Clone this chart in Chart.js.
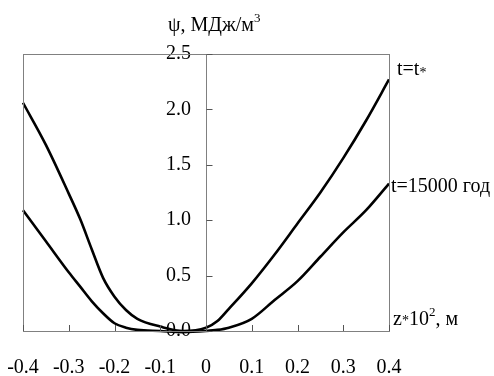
<!DOCTYPE html>
<html>
<head>
<meta charset="utf-8">
<script src="https://cdn.jsdelivr.net/npm/chart.js@4.4.1/dist/chart.umd.min.js"></script>
<style>
html,body{margin:0;padding:0;background:#fff;}
#wrap{width:494px;height:376px;}
</style>
</head>
<body>
<div id="wrap"><canvas id="c" width="494" height="376"></canvas></div>
<script>
// z*10^2, m
const zValues = [-0.4,-0.35,-0.3,-0.275,-0.25,-0.225,-0.2,-0.175,-0.15,-0.1,-0.05,0,0.025,0.05,0.1,0.15,0.2,0.25,0.3,0.35,0.4];
// psi, MJ/m^3 at t = t*
const psiTstar = [2.06,1.68,1.24,1.01,0.74,0.48,0.31,0.19,0.11,0.04,0.0,0.03,0.09,0.2,0.43,0.69,0.97,1.25,1.56,1.90,2.27];
// psi, MJ/m^3 at t = 15000 years
const psi15000 = [1.09,0.81,0.53,0.40,0.27,0.16,0.07,0.03,0.01,0.0,-0.01,0.0,0.01,0.03,0.11,0.28,0.45,0.67,0.89,1.09,1.33];
const seriesLabels = ['t=t*','t=15000 год'];
const yTickLabels = ['0.0','0.5','1.0','1.5','2.0','2.5'];
const xTickLabels = ['-0.4','-0.3','-0.2','-0.1','0','0.1','0.2','0.3','0.4'];

const FONT = "'Liberation Serif', 'Times New Roman', serif";

function pts(ys){ return zValues.map((z,i)=>({x:z,y:ys[i]})); }

function drawPieces(ctx, x, y, pieces){
  let cx = x;
  for (const p of pieces){
    ctx.font = p.size + 'px ' + FONT;
    ctx.fillText(p.t, cx, y + (p.dy||0));
    cx += ctx.measureText(p.t).width;
  }
}

const decor = {
  id:'decor',
  afterDraw(chart){
    const ctx = chart.ctx, a = chart.chartArea;
    const xs = chart.scales.x, ys = chart.scales.y;
    ctx.save();
    ctx.strokeStyle = '#808080';
    ctx.lineWidth = 1;
    ctx.strokeRect(Math.round(a.left)+0.5, Math.round(a.top)+0.5, Math.round(a.right-a.left), Math.round(a.bottom-a.top));
    const x0 = Math.round(xs.getPixelForValue(0))+0.5;
    ctx.beginPath();
    ctx.moveTo(x0, a.top); ctx.lineTo(x0, a.bottom);
    ctx.stroke();
    ctx.strokeStyle = '#555';
    ctx.beginPath();
    xs.ticks.forEach(t=>{
      const px = Math.round(xs.getPixelForValue(t.value))+0.5;
      ctx.moveTo(px, a.bottom); ctx.lineTo(px, a.bottom-6);
    });
    ys.ticks.forEach(t=>{
      const py = Math.round(ys.getPixelForValue(t.value))+0.5;
      ctx.moveTo(x0, py); ctx.lineTo(x0+6, py);
    });
    ctx.stroke();
    ctx.fillStyle = '#000';
    ctx.textBaseline = 'alphabetic';
    ctx.textAlign = 'left';
    drawPieces(ctx, 168, 31, [{t:'ψ, МДж/м', size:20},{t:'3', size:13, dy:-9}]);
    drawPieces(ctx, 397, 75, [{t:'t=t', size:20},{t:'*', size:14, dy:2}]);
    drawPieces(ctx, 391, 192, [{t:'t=15000 год', size:20}]);
    drawPieces(ctx, 393, 325, [{t:'z', size:20},{t:'*', size:14, dy:0},{t:'10', size:20},{t:'2', size:13, dy:-9},{t:', м', size:20}]);
    ctx.restore();
  }
};

new Chart(document.getElementById('c'), {
  type:'line',
  data:{
    datasets:[
      {label:seriesLabels[0], data:pts(psiTstar), borderColor:'#000', borderWidth:2.6, pointRadius:0, cubicInterpolationMode:'monotone', fill:false, clip:false},
      {label:seriesLabels[1], data:pts(psi15000), borderColor:'#000', borderWidth:2.6, pointRadius:0, cubicInterpolationMode:'monotone', fill:false, clip:false}
    ]
  },
  options:{
    responsive:false,
    animation:false,
    layout:{padding:{left:23,right:105,top:54,bottom:0}},
    plugins:{legend:{display:false},tooltip:{enabled:false}},
    scales:{
      x:{
        type:'linear', min:-0.4, max:0.4,
        grid:{display:true, drawOnChartArea:false, drawTicks:true, tickLength:25, color:'rgba(0,0,0,0)'},
        border:{display:false},
        afterFit(s){ s.height = 45; },
        afterBuildTicks(s){ s.ticks = xTickLabels.map(v=>({value:parseFloat(v)})); },
        ticks:{
          autoSkip:false, maxRotation:0, padding:0, color:'#000',
          font:{family:FONT, size:20},
          callback(v, i){ return xTickLabels[i]; }
        }
      },
      y:{
        type:'linear', min:0, max:2.5, position:'center',
        grid:{display:false, drawTicks:false},
        border:{display:false},
        afterBuildTicks(s){ s.ticks = yTickLabels.map(v=>({value:parseFloat(v)})); },
        ticks:{
          padding:15, color:'#000',
          font:{family:FONT, size:20},
          callback(v, i){ return yTickLabels[i]; }
        }
      }
    }
  },
  plugins:[decor]
});
</script>
</body>
</html>
